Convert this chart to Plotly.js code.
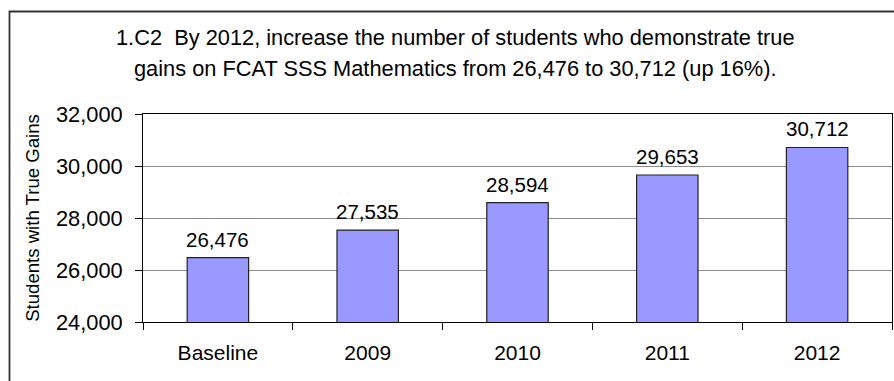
<!DOCTYPE html>
<html>
<head>
<meta charset="utf-8">
<script src="https://cdn.plot.ly/plotly-3.0.1.min.js"></script>
<style>html,body{margin:0;padding:0;background:#fff;}#chart{width:894px;height:381px;}</style>
</head>
<body>
<div id="chart"></div>
<script>
const categories = ["Baseline", "2009", "2010", "2011", "2012"];
const studentsWithTrueGains = [26476, 27535, 28594, 29653, 30712];
const titleLines = [
  "1.C2  By 2012, increase the number of students who demonstrate true",
  "gains on FCAT SSS Mathematics from 26,476 to 30,712 (up 16%)."
];
const yAxisTitle = "Students with True Gains";
const yTickValues = [24000, 26000, 28000, 30000, 32000];

const FONT = "Liberation Sans, Arial, Helvetica, sans-serif";
const W = 894, H = 381;
const L = 143, R = 2, T = 114, B = 59;
const pw = W - L - R, ph = H - T - B;
const px2paperX = x => (x - L) / pw;
const px2paperY = y => (H - B - y) / ph;

const trace = {
  type: "bar",
  x: categories,
  y: studentsWithTrueGains,
  marker: { color: "#9999FF", line: { color: "#222222", width: 1.2 } },
  width: 0.41,
  hoverinfo: "skip"
};

const labelAnnotations = categories.map((c, i) => ({
  x: i, y: studentsWithTrueGains[i], xref: "x", yref: "y",
  text: studentsWithTrueGains[i].toLocaleString("en-US"),
  showarrow: false, yanchor: "bottom", yshift: 5,
  font: { family: FONT, size: 20.5, color: "#000" }
}));

const titleAnnotations = titleLines.map((t, i) => ({
  x: px2paperX(455), xref: "paper", xanchor: "center",
  y: px2paperY([37.8, 68.8][i]), yref: "paper", yanchor: "middle",
  text: t, showarrow: false,
  font: { family: FONT, size: 21.8, color: "#000" }
}));

const layout = {
  width: W, height: H,
  margin: { l: L, r: R, t: T, b: B, pad: 0 },
  paper_bgcolor: "#ffffff",
  plot_bgcolor: "#ffffff",
  showlegend: false,
  font: { family: FONT, color: "#000" },
  xaxis: {
    type: "category",
    categoryorder: "array", categoryarray: categories,
    range: [-0.5, categories.length - 0.5],
    showline: true, linecolor: "#000", linewidth: 1, mirror: true,
    ticks: "outside", tickson: "boundaries", ticklen: 7, tickcolor: "#000", tickwidth: 1,
    showgrid: false, zeroline: false,
    tickfont: { family: FONT, size: 21, color: "#000" },
    ticklabelstandoff: 12,
    fixedrange: true
  },
  yaxis: {
    range: [24000, 32000],
    tickvals: yTickValues,
    ticktext: yTickValues.map(v => v.toLocaleString("en-US")),
    showline: true, linecolor: "#000", linewidth: 1, mirror: true,
    ticks: "outside", ticklen: 7, tickcolor: "#000", tickwidth: 1,
    showgrid: true, gridcolor: "#8c8c8c", gridwidth: 1,
    zeroline: false,
    tickfont: { family: FONT, size: 21.8, color: "#000" },
    ticklabelstandoff: 8,
    title: { text: yAxisTitle, font: { family: FONT, size: 18.6, color: "#000" }, standoff: 11 },
    automargin: false,
    fixedrange: true
  },
  annotations: labelAnnotations.concat(titleAnnotations),
  shapes: [{
    type: "rect", xref: "paper", yref: "paper",
    x0: px2paperX(9.5), x1: px2paperX(W + 20),
    y0: px2paperY(H + 20), y1: px2paperY(11.5),
    line: { color: "#333333", width: 1.8 },
    fillcolor: "rgba(0,0,0,0)", layer: "above"
  }]
};

Plotly.newPlot("chart", [trace], layout, { displayModeBar: false, staticPlot: true });
</script>
</body>
</html>
